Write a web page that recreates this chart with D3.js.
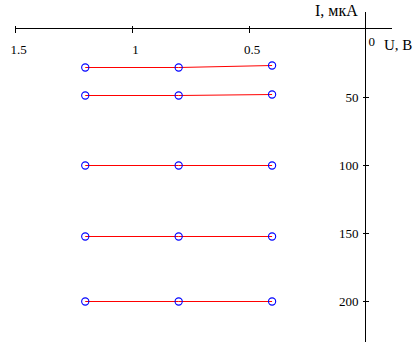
<!DOCTYPE html>
<html><head><meta charset="utf-8">
<script src="https://cdn.jsdelivr.net/npm/d3@7"></script>
<style>body{margin:0;background:#fff}svg{display:block}text{font-family:"Liberation Serif","Times New Roman",serif;fill:#000}</style>
</head><body><div id="c"></div>
<script>
const voltages = [1.2, 0.8, 0.4];
const row1 = [28, 28, 26.6];
const row2 = [48.8, 48.8, 47.8];
const row3 = [100, 100, 100];
const row4 = [152, 152, 152];
const row5 = [200, 200, 200];
const rows = [row1, row2, row3, row4, row5];
const xTicks = [1.5, 1, 0.5];
const xTickLabels = ["1.5", "1", "0.5"];
const yTicks = [50, 100, 150, 200];
const xTitle = "U, В";
const yTitle = "I, мкА";

const W = 420, H = 352;
const svg = d3.select("#c").append("svg").attr("width", W).attr("height", H);
const x = d3.scaleLinear().domain([0, 1.5]).range([365.5, 15.2]);
const y = d3.scaleLinear().domain([0, 200]).range([29, 301]);

// horizontal axis
const xa = svg.append("g").attr("transform", `translate(0,${y(0)-0.5})`)
  .call(d3.axisBottom(x).tickValues(xTicks).tickFormat((d,i)=>xTickLabels[i]).tickSize(4).tickSizeOuter(0));
xa.select(".domain").remove();
xa.append("line").attr("x1", 15).attr("x2", 392).attr("stroke", "#000").attr("shape-rendering","crispEdges");
xa.selectAll(".tick line").attr("y1", -3).attr("y2", 4).attr("stroke","#000").attr("shape-rendering","crispEdges");
xa.selectAll(".tick text").attr("y", 16).attr("dx", 3).attr("font-size", 13).attr("fill","#000")
  .style("font-family", '"Liberation Serif",serif');

// vertical axis
const ya = svg.append("g").attr("transform", `translate(${x(0)},0)`)
  .call(d3.axisLeft(y).tickValues(yTicks).tickSize(3).tickSizeOuter(0));
ya.select(".domain").remove();
ya.append("line").attr("y1", 12).attr("y2", 342).attr("stroke", "#000").attr("shape-rendering","crispEdges");
ya.selectAll(".tick line").attr("x1", -3).attr("x2", 3).attr("stroke","#000").attr("shape-rendering","crispEdges");
ya.selectAll(".tick text").attr("x", -7).attr("font-size", 13).attr("fill","#000")
  .style("font-family", '"Liberation Serif",serif');

// zero label and titles
svg.append("text").attr("x", x(0) + 3).attr("y", y(0) + 17).attr("font-size", 13).text("0");
svg.append("text").attr("x", 384).attr("y", 50).attr("font-size", 15).text(xTitle);
svg.append("text").attr("x", 315).attr("y", 16).attr("font-size", 16).text(yTitle);

// lines
const line = d3.line().x((d,i)=>x(voltages[i])).y(d=>Math.round(y(d)) + 0.5);
svg.append("g").selectAll("path").data(rows).join("path")
  .attr("d", line).attr("fill", "none").attr("stroke", "#ff0000").attr("stroke-width", 1);

// points
svg.append("g").selectAll("g").data(rows).join("g").selectAll("circle")
  .data(d=>d.map((v,i)=>[voltages[i], v])).join("circle")
  .attr("cx", d=>x(d[0])).attr("cy", d=>Math.round(y(d[1])) + 0.5).attr("r", 3.6)
  .attr("fill", "none").attr("stroke", "#0000ff").attr("stroke-width", 1.1);
</script></body></html>
